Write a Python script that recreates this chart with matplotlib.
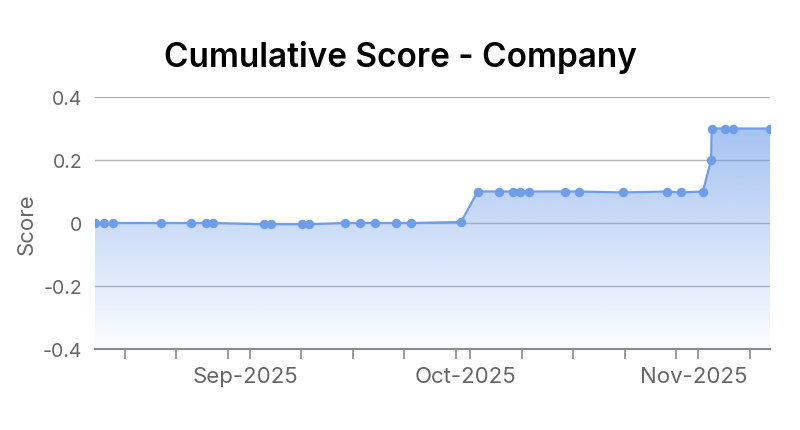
import numpy as np
import pandas as pd
import matplotlib
matplotlib.use('Agg')
import matplotlib.pyplot as plt
import matplotlib.dates as mdates
import matplotlib.transforms as mtransforms
from matplotlib.patches import PathPatch

plt.rcParams['font.family'] = ['Inter', 'DejaVu Sans']

dates = [
    '2025-08-10 22:00', '2025-08-12 03:00', '2025-08-13 08:00', '2025-08-19 21:00',
    '2025-08-23 23:00', '2025-08-25 23:00', '2025-08-26 23:00', '2025-09-02 21:00',
    '2025-09-03 21:00', '2025-09-08 01:00', '2025-09-09 01:00', '2025-09-13 22:00',
    '2025-09-15 23:00', '2025-09-17 23:00', '2025-09-20 21:00', '2025-09-22 21:00',
    '2025-09-29 17:00', '2025-10-01 23:30', '2025-10-04 21:00', '2025-10-06 18:00',
    '2025-10-07 19:00', '2025-10-08 22:00', '2025-10-13 20:00', '2025-10-15 17:30',
    '2025-10-21 17:00', '2025-10-27 17:00', '2025-10-29 14:40', '2025-11-01 15:00',
    '2025-11-02 17:30', '2025-11-02 19:40', '2025-11-04 15:00', '2025-11-05 18:00',
    '2025-11-10 18:00',
]
scores = [
    0.0, 0.0, 0.0, 0.0, 0.0, 0.0, 0.0, -0.004,
    -0.004, -0.004, -0.004, 0.0, 0.0, 0.0, 0.0, 0.0,
    0.003, 0.1, 0.1, 0.1, 0.1, 0.1, 0.1, 0.1,
    0.097, 0.1, 0.097, 0.1, 0.2, 0.3, 0.3, 0.3,
    0.3,
]
y_ticks = [0.4, 0.2, 0, -0.2, -0.4]
y_tick_labels = ['0.4', '0.2', '0', '-0.2', '-0.4']

x = mdates.date2num(pd.to_datetime(dates))
y = np.array(scores)

line_color = '#6f9ee9'
grey = '#666666'

fig = plt.figure(figsize=(8, 4.31), dpi=100)
ax = fig.add_axes([95 / 800, 1 - 350 / 431, 675 / 800, 252 / 431])

ax.set_xlim(x[0], x[-1])
ax.set_ylim(-0.4, 0.4)

# gradient fill under the line, clipped to the area polygon
verts = np.vstack([np.column_stack([x, y]),
                   [[x[-1], -0.4], [x[0], -0.4], [x[0], y[0]]]])
grad = np.zeros((256, 1, 4))
rgb = matplotlib.colors.to_rgb(line_color)
grad[:, 0, :3] = rgb
grad[:, 0, 3] = np.linspace(0.62, 0.02, 256)
img = ax.imshow(grad, aspect='auto', extent=[x[0], x[-1], -0.4, max(scores)],
                origin='upper', zorder=2)
clip = PathPatch(matplotlib.path.Path(verts, closed=True), transform=ax.transData,
                 facecolor='none', edgecolor='none')
ax.add_patch(clip)
img.set_clip_path(clip)

ax.plot(x, y, color=line_color, lw=1.6, marker='o', ms=5.8, zorder=3)

ax.set_yticks(y_ticks)
ax.set_yticklabels(y_tick_labels)
ax.grid(axis='y', color='#b5b5b5', lw=1, zorder=1)
ax.set_axisbelow(True)

ax.xaxis.set_major_locator(mdates.MonthLocator())
ax.xaxis.set_major_formatter(mdates.DateFormatter('%b-%Y'))
ax.xaxis.set_minor_locator(mdates.DayLocator(bymonthday=[8, 15, 22, 29]))
ax.tick_params(axis='x', which='both', length=7, width=1.2, color='#8a8a8a',
               labelsize=16, labelcolor=grey, pad=5)
ax.tick_params(axis='y', length=0, labelsize=14, labelcolor=grey, pad=9)
offset = mtransforms.ScaledTranslation(-5 / 100, 0, fig.dpi_scale_trans)
for lab in ax.get_xticklabels():
    lab.set_transform(lab.get_transform() + offset)

for side in ['top', 'right', 'left']:
    ax.spines[side].set_visible(False)
ax.spines['bottom'].set_color('#8a8a8a')
ax.spines['bottom'].set_linewidth(1.5)

ax.set_ylabel('Score', fontsize=16, color=grey, labelpad=5)
fig.text(400 / 800, 1 - 58 / 431, 'Cumulative Score - Company', ha='center',
         va='center', fontsize=24, fontweight='semibold', color='black')

fig.savefig('out.png', dpi=100)
